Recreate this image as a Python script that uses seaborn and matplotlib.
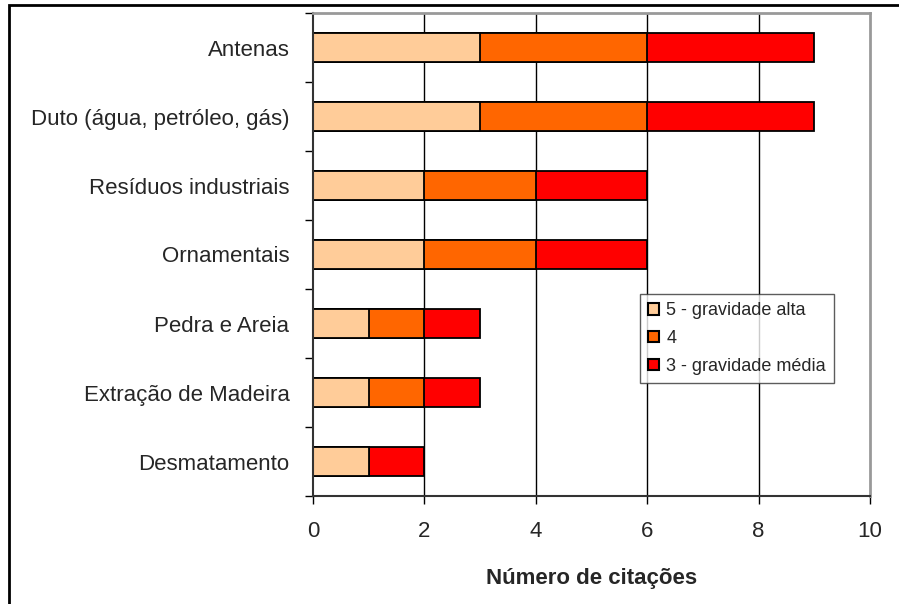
import matplotlib
matplotlib.use("Agg")
import matplotlib.pyplot as plt
from matplotlib.patches import Patch, Rectangle
import numpy as np
import pandas as pd
import seaborn as sns

# Dados
categorias = ['Antenas', 'Duto (água, petróleo, gás)', 'Resíduos industriais',
              'Ornamentais', 'Pedra e Areia', 'Extração de Madeira', 'Desmatamento']
grav_5 = [3, 3, 2, 2, 1, 1, 1]
grav_4 = [3, 3, 2, 2, 1, 1, 0]
grav_3 = [3, 3, 2, 2, 1, 1, 1]
legendas = ['5 - gravidade alta', '4', '3 - gravidade média']
cores = ['#FFCC99', '#FF6600', '#FF0000']

df = pd.DataFrame({'categoria': categorias, 'g5': grav_5, 'g4': grav_4, 'g3': grav_3})
# acumulados para empilhar
df['c5'] = df['g5']
df['c4'] = df['g5'] + df['g4']
df['c3'] = df['g5'] + df['g4'] + df['g3']

sns.set_style('white')
plt.rcParams['font.family'] = ['Liberation Sans', 'DejaVu Sans']

fig = plt.figure(figsize=(8.99, 6.04), dpi=100)
ax = fig.add_axes([313/899, 1 - 496/604, (870-313)/899, (496-13)/604])

# linhas de grade verticais atrás das barras
for xv in [2, 4, 6, 8]:
    ax.axvline(xv, color='black', lw=1, zorder=0)

# barras empilhadas: desenha o total primeiro e vai sobrepondo
for col, cor in zip(['c3', 'c4', 'c5'], cores[::-1]):
    sns.barplot(data=df, y='categoria', x=col, orient='h', color=cor,
                width=0.41, edgecolor='black', linewidth=1.3, saturation=1, ax=ax, zorder=2)

ax.set_xlim(0, 10)
ax.set_ylim(6.5, -0.5)
ax.set_xticks([0, 2, 4, 6, 8, 10])
ax.set_xticklabels(['0', '2', '4', '6', '8', '10'], fontsize=16)
ax.set_yticks(range(len(categorias)))
ax.set_yticklabels(categorias, fontsize=16)
ax.set_yticks(np.arange(-0.5, 7, 1), minor=True)
ax.tick_params(axis='y', which='major', length=0, pad=17)
ax.tick_params(axis='y', which='minor', length=6, width=1, color='black', direction='out', left=True)
ax.tick_params(axis='x', which='major', length=6, width=1, color='black', direction='out', bottom=True, pad=12)
ax.set_ylabel('')
ax.set_xlabel('Número de citações', fontsize=16, fontweight='bold', labelpad=19)

for lado in ['left', 'bottom']:
    ax.spines[lado].set_color('#333333')
    ax.spines[lado].set_linewidth(1.5)
for lado in ['top', 'right']:
    ax.spines[lado].set_color('#999999')
    ax.spines[lado].set_linewidth(2)

handles = [Patch(facecolor=c, edgecolor='black', linewidth=1.5) for c in cores]
leg = ax.legend(handles, legendas, loc='upper left', bbox_to_anchor=(0.587, 0.418),
                borderaxespad=0, fontsize=13, frameon=True, fancybox=False,
                handlelength=0.6, handleheight=0.6, handletextpad=0.4,
                labelspacing=0.6, borderpad=0.45)
leg.get_frame().set_edgecolor('#333333')
leg.get_frame().set_linewidth(1)

# moldura da figura
fig.patches.append(Rectangle((9/899, -0.01), 1.0, 1 - 5/604 + 0.01, transform=fig.transFigure,
                             fill=False, edgecolor='black', linewidth=2))

fig.savefig('out.png', dpi=100)
